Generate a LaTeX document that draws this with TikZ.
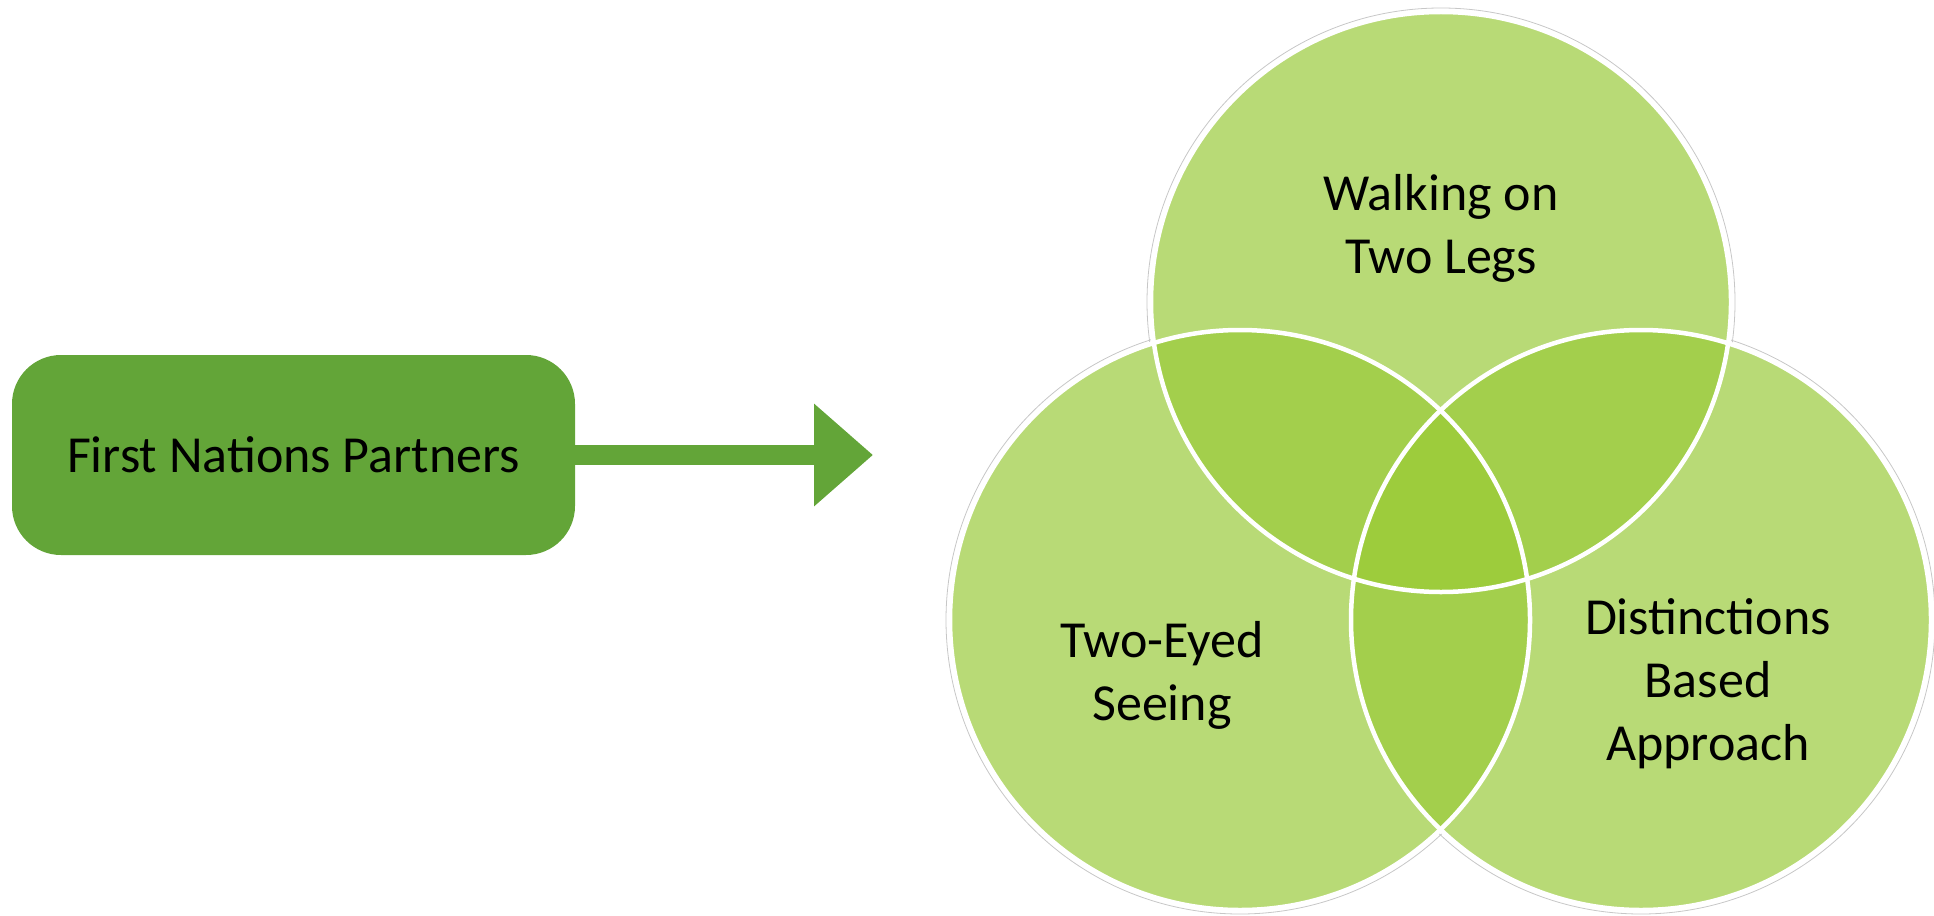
\documentclass[tikz,border=0pt]{standalone}
\usepackage{fontspec}
\setmainfont{Carlito}
\usetikzlibrary{arrows.meta}
\definecolor{boxgreen}{HTML}{63A538}
\definecolor{vlight}{HTML}{B8DA76}
\definecolor{vpair}{HTML}{A3CF4C}
\definecolor{vtriple}{HTML}{9DCC3C}
\begin{document}
\begin{tikzpicture}[x=1pt,y=-1pt,
  txt/.style={font=\fontsize{52}{63}\selectfont, align=center, text=black},
  rim/.style={white, line width=4.5pt},
  halo/.style={black!22, line width=0.8pt}]
\useasboundingbox (0,0) rectangle (1934,915);
\coordinate (ct) at (1441,302);
\coordinate (cl) at (1240,620);
\coordinate (cr) at (1641,620);
% faint outer outline
\foreach \c in {ct,cl,cr} \draw[halo] (\c) circle (294pt);
% base fills
\foreach \c in {ct,cl,cr} \fill[vlight] (\c) circle (290pt);
% pairwise overlaps
\begin{scope}
  \clip (ct) circle (290pt);
  \fill[vpair] (cl) circle (290pt);
  \fill[vpair] (cr) circle (290pt);
\end{scope}
\begin{scope}
  \clip (cl) circle (290pt);
  \fill[vpair] (cr) circle (290pt);
\end{scope}
% triple overlap
\begin{scope}
  \clip (ct) circle (290pt);
  \clip (cl) circle (290pt);
  \fill[vtriple] (cr) circle (290pt);
\end{scope}
% white rims
\foreach \c in {ct,cl,cr} \draw[rim] (\c) circle (290pt);
% labels
\node[txt] (t1) at (1441,228) {Walking on\\Two Legs};
\node[txt] (t2) at (1162,675) {Two-Eyed\\Seeing};
\node[txt] (t3) at (1708,684) {Distinctions\\Based\\Approach};
% box and arrow
\node[txt, fill=boxgreen, rounded corners=49pt, minimum width=563pt, minimum height=200pt, inner sep=0pt] (fnp) at (293.5,455) {First Nations Partners};
\coordinate (tip) at (873,455);
\draw[boxgreen, line width=20pt, -{Triangle[length=59pt, width=99pt]}] (fnp.east) -- (tip);
\end{tikzpicture}
\end{document}
